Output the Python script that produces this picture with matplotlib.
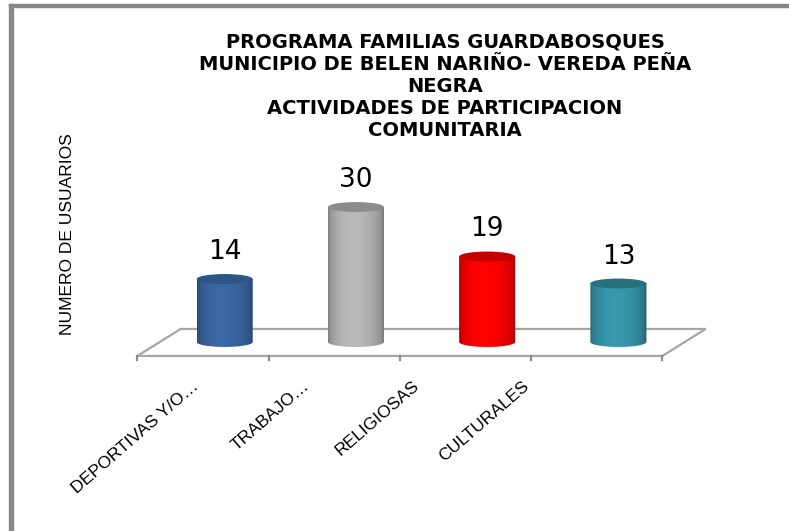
import numpy as np
import matplotlib
matplotlib.use("Agg")
import matplotlib.pyplot as plt
from matplotlib.patches import Polygon, Ellipse, Rectangle, PathPatch
from matplotlib.path import Path
from matplotlib.colors import to_rgb

# data
categories = ["DEPORTIVAS Y/O…", "TRABAJO…", "RELIGIOSAS", "CULTURALES"]
values = [14, 30, 19, 13]
body_colors = ["#3a67a2", "#b6b6b6", "#ff0000", "#3696ab"]
top_colors = ["#2d5587", "#8c8c8c", "#c40000", "#29707f"]
title_lines = [
    "PROGRAMA FAMILIAS GUARDABOSQUES",
    "MUNICIPIO DE BELEN NARIÑO- VEREDA PEÑA",
    "NEGRA",
    "ACTIVIDADES DE PARTICIPACION",
    "COMUNITARIA",
]
ylabel = "NUMERO DE USUARIOS"

# pseudo-3d geometry (data units)
DEPTH_X, FLOOR_FRONT, FLOOR_BACK = 0.33, -3.1, 2.9
BAR_W, ELL_H = 0.427, 2.2

fig = plt.figure(figsize=(7.89, 5.31), dpi=100)
ax = fig.add_axes([0, 0, 1, 1])
ax.axis("off")

# floor
n = len(categories)
floor = [(-0.5, FLOOR_FRONT), (n - 0.5, FLOOR_FRONT),
         (n - 0.5 + DEPTH_X, FLOOR_BACK), (-0.5 + DEPTH_X, FLOOR_BACK)]
ax.add_patch(Polygon(floor, closed=True, facecolor="white",
                     edgecolor="#a6a6a6", lw=1.6, zorder=1))
for b in np.arange(n + 1) - 0.5:
    ax.plot([b, b], [FLOOR_FRONT, FLOOR_FRONT - 1.0], color="#8c8c8c", lw=1.6, zorder=1)

# cylinders
t = np.linspace(0, 1, 120)
shade = 0.68 + 0.34 * np.sin(np.pi * t ** 0.85) ** 0.6
shade[-6:] *= 0.9
for i, (v, bc, tc) in enumerate(zip(values, body_colors, top_colors)):
    xc = i + DEPTH_X / 2
    x0, x1 = xc - BAR_W / 2, xc + BAR_W / 2
    ang = np.linspace(np.pi, 2 * np.pi, 40)
    arc = np.column_stack([xc + BAR_W / 2 * np.cos(ang), ELL_H / 2 * np.sin(ang)])
    verts = np.vstack([[(x0, v)], arc, [(x1, v)], [(x0, v)]])
    clip = PathPatch(Path(verts, closed=True), facecolor="none", edgecolor="none")
    ax.add_patch(clip)
    img = np.clip(np.array(to_rgb(bc))[None, None, :] * shade[None, :, None], 0, 1)
    im = ax.imshow(img, extent=[x0, x1, -ELL_H / 2, v], aspect="auto",
                   interpolation="bilinear", zorder=3)
    im.set_clip_path(clip)
    ax.add_patch(Ellipse((xc, v), BAR_W, ELL_H, facecolor=tc, edgecolor="none", zorder=4))
    ax.text(xc, v + 6, str(v), ha="center", va="center", fontsize=19,
            family="DejaVu Sans", color="black", zorder=5)

# category labels
for i, lab in enumerate(categories):
    ax.text(-0.05 + 0.84 * i, -9.3, lab, rotation=41, rotation_mode="anchor",
            ha="right", va="center", fontsize=12.5, family="Liberation Sans")

ax.text(-1.03, 24, ylabel, rotation=90, ha="center", va="center", fontsize=12.5,
        family="Liberation Sans")

for k, line in enumerate(title_lines):
    fig.text(445 / 789, 1 - (42 + 22.2 * k) / 531, line, ha="center", va="center",
             fontsize=14, fontweight="bold", family="DejaVu Sans")

# outer frame (left and top edges)
fig.add_artist(Rectangle((9 / 789, 0), 4.3 / 789, 1 - 4 / 531,
                         transform=fig.transFigure, color="#888888"))
fig.add_artist(Rectangle((9 / 789, 1 - 7.3 / 531), 1, 3.3 / 531,
                         transform=fig.transFigure, color="#888888"))

ax.set_xlim(-1.547, 4.465)
ax.set_ylim(-42, 76)
fig.savefig("out.png", dpi=100)
